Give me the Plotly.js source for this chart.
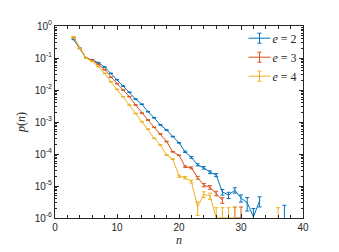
<!DOCTYPE html>
<html>
<head>
<meta charset="utf-8">
<script src="https://cdn.plot.ly/plotly-3.0.1.min.js"></script>
<style>
html,body{margin:0;padding:0;background:#fff;}
#chart{width:339px;height:252px;}
</style>
</head>
<body>
<div id="chart"></div>
<script>
// cluster size n
var nVals = [3,4,5,6,7,8,9,10,11,12,13,14,15,16,17,18,19,20,21,22,23,24,25,26,27,28,29,30,31,32,33,34,35,36,37];

// p(n) for e = 2
var pE2 = [0.38,0.2,0.1,0.087,0.071,0.052,0.033,0.021,0.0133,0.0085,0.0052,0.0036,0.0021,0.00135,8.1e-4,5.6e-4,3.5e-4,2.24e-4,1.17e-4,7.8e-5,4.6e-5,3.7e-5,2.7e-5,2.2e-5,6.5e-6,5.2e-6,7.4e-6,4.2e-6,3.0e-6,1.1e-6,3.4e-6,null,null,null,1.0e-6];
// p(n) for e = 3
var pE3 = [0.437,0.2,0.1,0.085,0.063,0.043,0.025,0.0158,0.01,0.0062,0.0034,0.0019,0.00115,6.8e-4,4.2e-4,2.45e-4,1.17e-4,9.1e-5,4.0e-5,3.7e-5,1.82e-5,1.07e-5,9.1e-6,5.9e-6,3.6e-6,null,1.0e-6,1.0e-6,null,null,null,null,null,null,null];
// p(n) for e = 4
var pE4 = [0.457,0.2,0.1,0.079,0.054,0.033,0.018,0.0105,0.0062,0.0034,0.00186,0.00102,6.0e-4,3.1e-4,1.9e-4,9.3e-5,6.9e-5,2.04e-5,1.82e-5,1.38e-5,2.2e-6,5.5e-6,4.9e-6,1.0e-6,1.0e-6,1.0e-6,1.0e-6,null,null,null,null,null,null,1.0e-6,null];

// relative error-bar half sizes
var relErrE2 = [0.02,0.02,0.02,0.02,0.02,0.02,0.02,0.02,0.02,0.02,0.02,0.02,0.02,0.02,0.02,0.02,0.02,0.02,0.05,0.06,0.08,0.09,0.1,0.11,0.2,0.22,0.19,0.25,0.45,0.8,0.35,0,0,0,1.5];
var relErrE3 = [0.02,0.02,0.02,0.02,0.02,0.02,0.02,0.02,0.02,0.02,0.02,0.02,0.02,0.02,0.02,0.02,0.02,0.02,0.06,0.07,0.1,0.12,0.13,0.16,0.2,0,1.2,1.2,0,0,0,0,0,0,0];
var relErrE4 = [0.02,0.02,0.02,0.02,0.02,0.02,0.02,0.02,0.02,0.02,0.02,0.02,0.02,0.02,0.02,0.02,0.02,0.08,0.09,0.1,0.45,0.2,0.22,1.1,1.1,1.1,1.1,0,0,0,0,0,0,1.1,0];

var seriesNames = ['<i>e</i> = 2','<i>e</i> = 3','<i>e</i> = 4'];
var seriesColors = ['#0072BD','#D95319','#EDB120'];

var yTickVals = [1e-6,1e-5,1e-4,1e-3,1e-2,1e-1,1];
var yTickText = ['10<sup>-6</sup>','10<sup>-5</sup>','10<sup>-4</sup>','10<sup>-3</sup>','10<sup>-2</sup>','10<sup>-1</sup>','10<sup>0</sup>'];
var xTickVals = [0,10,20,30,40];

var yMinor = [];
for (var d = -6; d < 0; d++) for (var k = 2; k <= 9; k++) yMinor.push(k * Math.pow(10, d));

function absErr(p, r) { return p.map(function(v, i){ return v == null ? null : v * r[i]; }); }
function absErrMinus(p, r) { return p.map(function(v, i){ return v == null ? null : v * Math.min(r[i], 0.95); }); }

var allP = [pE2, pE3, pE4];
var allR = [relErrE2, relErrE3, relErrE4];
var traces = allP.map(function(p, s){
  return {
    x: nVals, y: p, type: 'scatter', mode: 'lines', name: seriesNames[s],
    line: {color: seriesColors[s], width: 1},
    connectgaps: false,
    error_y: {type: 'data', symmetric: false, array: absErr(p, allR[s]), arrayminus: absErrMinus(p, allR[s]),
              color: seriesColors[s], thickness: 1, width: 2}
  };
});

var axFont = {family: 'Liberation Sans, Arial, sans-serif', size: 10, color: '#262626'};
var layout = {
  width: 339, height: 252,
  margin: {l: 55, r: 36, t: 26, b: 34},
  paper_bgcolor: '#fff', plot_bgcolor: '#fff',
  showlegend: true,
  legend: {x: 0.998, xanchor: 'right', y: 1.012, yanchor: 'top', bgcolor: 'rgba(255,255,255,0)',
           font: {family: 'Liberation Serif, DejaVu Serif, serif', size: 12, color: '#262626'},
           tracegroupgap: 0, itemwidth: 30},
  xaxis: {range: [0, 40], tickmode: 'array', tickvals: xTickVals, ticks: 'inside', ticklen: 4,
          tickcolor: '#262626', showline: true, linecolor: '#262626', linewidth: 1, mirror: 'ticks',
          showgrid: false, zeroline: false, tickfont: axFont,
          minor: {dtick: 2, ticks: 'inside', ticklen: 3, tickcolor: '#262626', showgrid: false},
          title: {text: '<i>n</i>', font: {family: 'Liberation Serif, DejaVu Serif, serif', size: 12, color: '#262626'}, standoff: 3}},
  yaxis: {type: 'log', range: [-6, 0], tickmode: 'array', tickvals: yTickVals, ticktext: yTickText,
          ticks: 'inside', ticklen: 4, tickcolor: '#262626', showline: true, linecolor: '#262626', linewidth: 1,
          mirror: 'ticks', showgrid: false, zeroline: false, tickfont: axFont,
          minor: {tickmode: 'array', tickvals: yMinor, ticks: 'inside', ticklen: 2, tickcolor: '#262626', showgrid: false},
          title: {text: '<i>p</i>(<i>n</i>)', font: {family: 'Liberation Serif, DejaVu Serif, serif', size: 12, color: '#262626'}, standoff: 6}}
};

function styleLegend() {
  var groups = document.querySelectorAll('.legend .traces');
  groups.forEach(function(g, i) {
    var path = g.querySelector('.legendlines path');
    if (!path) return;
    path.setAttribute('d', 'M16,0h22');
    if (!g.querySelector('.legend-err')) {
      var ns = 'http://www.w3.org/2000/svg';
      var eb = document.createElementNS(ns, 'path');
      eb.setAttribute('class', 'legend-err');
      eb.setAttribute('d', 'M27,-5v10M25,-5h4M25,5h4');
      eb.setAttribute('stroke', seriesColors[i]);
      eb.setAttribute('stroke-width', '1');
      eb.setAttribute('fill', 'none');
      path.parentNode.appendChild(eb);
    }
  });
}

Plotly.newPlot('chart', traces, layout, {staticPlot: true, displayModeBar: false}).then(styleLegend);
</script>
</body>
</html>
